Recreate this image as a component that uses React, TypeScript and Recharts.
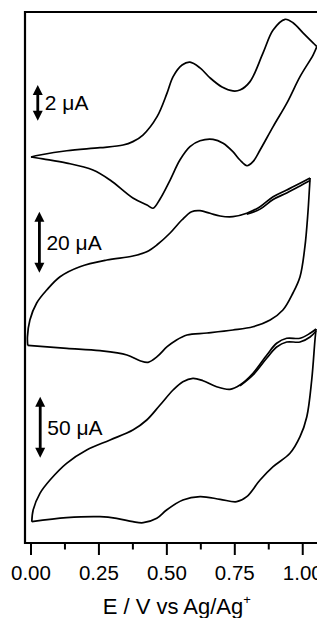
import React from 'react';
import { LineChart, Line, XAxis, YAxis, ReferenceLine, ReferenceArea, Label } from 'recharts';

// ---- axis ----
const X_DOMAIN: [number, number] = [-0.022, 1.058];
const X_TICKS = [0, 0.125, 0.25, 0.375, 0.5, 0.625, 0.75, 0.875, 1.0];
const X_TICK_LABELS = ['0.00', '', '0.25', '', '0.50', '', '0.75', '', '1.00'];
const X_TITLE = 'E / V vs Ag/Ag';

// ---- CV 1 (2 µA scale) ----
const cv1FwdE = [0.000, 0.033, 0.132, 0.254, 0.339, 0.375, 0.412, 0.464, 0.501, 0.523, 0.556, 0.585, 0.622, 0.659, 0.703, 0.743, 0.769, 0.806, 0.854, 0.891, 0.935, 0.964, 1.001, 1.038, 1.052];
const cv1FwdI = [0.00, 0.11, 0.35, 0.52, 0.67, 0.86, 1.23, 2.26, 3.59, 4.50, 5.15, 5.31, 4.99, 4.43, 3.92, 3.70, 3.75, 4.22, 5.83, 7.11, 7.71, 7.52, 6.95, 6.39, 6.18];
const cv1RevE = [1.052, 1.038, 0.990, 0.942, 0.891, 0.843, 0.817, 0.795, 0.769, 0.743, 0.707, 0.670, 0.622, 0.585, 0.548, 0.512, 0.475, 0.449, 0.427, 0.375, 0.291, 0.228, 0.132, 0.044, 0.000];
const cv1RevI = [6.18, 5.71, 4.50, 3.03, 1.70, 0.39, -0.26, -0.49, -0.17, 0.30, 0.77, 0.99, 0.91, 0.58, -0.17, -1.29, -2.35, -2.87, -2.69, -2.30, -1.29, -0.73, -0.34, -0.11, 0.00];

// ---- CV 2 (20 µA scale) ----
const cv2FwdE = [-0.012, -0.013, -0.004, 0.021, 0.058, 0.107, 0.180, 0.279, 0.375, 0.426, 0.463, 0.512, 0.555, 0.591, 0.622, 0.659, 0.696, 0.743, 0.794, 0.843, 0.891, 0.941, 0.990, 1.027];
const cv2FwdI = [-14.9, -12.1, -6.56, -0.98, 3.28, 7.64, 10.92, 13.11, 14.43, 15.84, 18.03, 21.97, 26.23, 28.95, 29.28, 28.43, 27.54, 27.31, 28.43, 30.59, 33.87, 36.07, 38.26, 40.0];
const cv2RevE = [1.027, 1.025, 1.019, 1.008, 0.990, 0.964, 0.927, 0.880, 0.817, 0.743, 0.648, 0.574, 0.530, 0.501, 0.464, 0.431, 0.401, 0.353, 0.254, 0.132, -0.012];
const cv2RevI = [40.0, 37.05, 28.52, 17.48, 7.64, 2.30, -3.28, -6.56, -8.75, -9.84, -10.82, -11.48, -13.44, -15.31, -18.59, -20.43, -19.90, -18.03, -16.62, -15.84, -14.9];
const cv2Cyc2E = [0.794, 0.843, 0.891, 0.941, 0.990, 1.027];
const cv2Cyc2I = [28.1, 29.8, 32.95, 35.1, 37.4, 39.2];

// ---- CV 3 (50 µA scale) ----
const cv3FwdE = [0.003, 0.008, 0.033, 0.070, 0.131, 0.205, 0.291, 0.375, 0.426, 0.475, 0.523, 0.559, 0.596, 0.633, 0.683, 0.732, 0.769, 0.817, 0.868, 0.904, 0.941, 0.990, 1.027, 1.049];
const cv3FwdI = [-58.77, -49.18, -35.49, -24.59, -10.90, 0, 8.20, 16.39, 24.59, 36.89, 49.18, 55.98, 58.77, 56.80, 51.89, 49.75, 53.28, 62.87, 77.87, 87.46, 91.56, 91.56, 95.66, 99.18];
const cv3RevE = [1.049, 1.045, 1.033, 1.015, 0.990, 0.953, 0.891, 0.843, 0.794, 0.757, 0.696, 0.622, 0.559, 0.499, 0.463, 0.413, 0.375, 0.315, 0.254, 0.131, 0.003];
const cv3RevI = [99.18, 90.16, 57.38, 27.30, 10.90, -2.70, -13.69, -24.59, -38.28, -42.38, -40.41, -38.28, -40.98, -49.18, -55.98, -59.59, -58.77, -55.98, -54.67, -55.49, -58.77];
const cv3Cyc2E = [0.769, 0.817, 0.868, 0.904, 0.941, 0.990, 1.027, 1.049];
const cv3Cyc2I = [52.5, 61.5, 75.4, 84.4, 88.5, 88.5, 92.6, 97.5];

// ---- vertical axes (one per trace, in µA) ----
const Y_DOMAIN_1: [number, number] = [-21.62, 8.12];
const Y_DOMAIN_2: [number, number] = [-79.67, 94.43];
const Y_DOMAIN_3: [number, number] = [-76.23, 359.0];

// ---- scale bars ----
const scaleBarLabels = ['2 \u03bcA', '20 \u03bcA', '50 \u03bcA'];
const scaleBarE = [0.025, 0.031, 0.034];
const scaleBarFrom = [2.03, 8.95, -6.3];
const scaleBarTo = [4.03, 28.95, 43.7];

const zip = (e: number[], i: number[]) => e.map((v, k) => ({ E: v, I: i[k] }));

const FONT = '"Liberation Sans", Arial, sans-serif';

// centripetal Catmull-Rom curve factory (smooth through every point, no overshoot loops)
function catmullRom(context: any) {
  let pts: [number, number][] = [];
  const dist = (a: [number, number], b: [number, number]) =>
    Math.pow(Math.hypot(b[0] - a[0], b[1] - a[1]), 0.5) || 1e-6;
  return {
    areaStart() {},
    areaEnd() {},
    lineStart() {
      pts = [];
    },
    lineEnd() {
      const n = pts.length;
      if (!n) return;
      context.moveTo(pts[0][0], pts[0][1]);
      for (let i = 0; i < n - 1; i++) {
        const p0 = pts[i === 0 ? 0 : i - 1];
        const p1 = pts[i];
        const p2 = pts[i + 1];
        const p3 = pts[i + 2 < n ? i + 2 : n - 1];
        const t01 = dist(p0, p1);
        const t12 = dist(p1, p2);
        const t23 = dist(p2, p3);
        const m1 = [0, 1].map(
          (k) => p2[k] - p1[k] + t12 * ((p1[k] - p0[k]) / t01 - (p2[k] - p0[k]) / (t01 + t12))
        );
        const m2 = [0, 1].map(
          (k) => p2[k] - p1[k] + t12 * ((p3[k] - p2[k]) / t23 - (p3[k] - p1[k]) / (t12 + t23))
        );
        context.bezierCurveTo(
          p1[0] + m1[0] / 3,
          p1[1] + m1[1] / 3,
          p2[0] - m2[0] / 3,
          p2[1] - m2[1] / 3,
          p2[0],
          p2[1]
        );
      }
    },
    point(x: number, y: number) {
      pts.push([+x, +y]);
    },
  };
}

const Tick = (props: any) => {
  const { x, y, payload } = props;
  const idx = X_TICKS.indexOf(payload.value);
  const label = idx >= 0 ? X_TICK_LABELS[idx] : '';
  const major = label !== '';
  return (
    <g>
      <line x1={x} x2={x} y1={y} y2={y + (major ? 12 : 6.5)} stroke="#000" strokeWidth={2} />
      {major && (
        <text x={x} y={y + 37} textAnchor="middle" fontSize={20.5} fontFamily={FONT} fill="#000">
          {label}
        </text>
      )}
    </g>
  );
};

const Title = (props: any) => {
  const vb = props.viewBox || { x: 17, y: 535, width: 293.5, height: 75 };
  return (
    <text x={vb.x + vb.width / 2 + 5} y={vb.y + 71} textAnchor="middle" fontSize={22} fontFamily={FONT} fill="#000">
      {X_TITLE}
      <tspan dy={-10} fontSize={13}>+</tspan>
    </text>
  );
};

const makeBar = (text: string) => (props: any) => {
  const { x1, y1, y2 } = props;
  const top = Math.min(y1, y2);
  const bot = Math.max(y1, y2);
  const x = x1;
  const hw = 5;
  const hl = 10;
  return (
    <g>
      <line x1={x} x2={x} y1={top + hl - 1} y2={bot - hl + 1} stroke="#000" strokeWidth={2.8} />
      <polygon points={`${x},${top} ${x - hw},${top + hl} ${x + hw},${top + hl}`} fill="#000" />
      <polygon points={`${x},${bot} ${x - hw},${bot - hl} ${x + hw},${bot - hl}`} fill="#000" />
      <text x={x + 7} y={(top + bot) / 2 + 7.5} fontSize={21} fontFamily={FONT} fill="#000">
        {text}
      </text>
    </g>
  );
};

const axisIds = ['a', 'b', 'c'];

export default function App() {
  const series = [
    { id: 'a', data: zip(cv1FwdE, cv1FwdI) },
    { id: 'a', data: zip(cv1RevE, cv1RevI) },
    { id: 'b', data: zip(cv2FwdE, cv2FwdI) },
    { id: 'b', data: zip(cv2RevE, cv2RevI) },
    { id: 'b', data: zip(cv2Cyc2E, cv2Cyc2I) },
    { id: 'c', data: zip(cv3FwdE, cv3FwdI) },
    { id: 'c', data: zip(cv3RevE, cv3RevI) },
    { id: 'c', data: zip(cv3Cyc2E, cv3Cyc2I) },
  ];
  return (
    <div style={{ width: 317, height: 610, background: '#fff' }}>
      <style>{'html,body{overflow:hidden;background:#fff}'}</style>
      <LineChart width={317} height={610} margin={{ top: 4, right: 6.5, left: 17, bottom: 0 }}>
        <XAxis
          type="number"
          dataKey="E"
          domain={X_DOMAIN}
          ticks={X_TICKS}
          interval={0}
          allowDataOverflow
          axisLine={false}
          tickLine={false}
          tickSize={0}
          tickMargin={0}
          height={75}
          tick={<Tick />}
          label={<Label content={<Title />} />}
        />
        <YAxis yAxisId="a" type="number" domain={Y_DOMAIN_1} allowDataOverflow hide />
        <YAxis yAxisId="b" type="number" domain={Y_DOMAIN_2} allowDataOverflow hide />
        <YAxis yAxisId="c" type="number" domain={Y_DOMAIN_3} allowDataOverflow hide />
        <ReferenceArea
          yAxisId="a"
          x1={X_DOMAIN[0]}
          x2={X_DOMAIN[1]}
          y1={Y_DOMAIN_1[0]}
          y2={Y_DOMAIN_1[1]}
          fill="none"
          fillOpacity={0}
          stroke="#000"
          strokeWidth={2.2}
          ifOverflow="visible"
        />
        {series.map((s, k) => (
          <Line
            key={k}
            yAxisId={s.id}
            data={s.data}
            dataKey="I"
            type={catmullRom as any}
            stroke="#000"
            strokeWidth={1.7}
            dot={false}
            activeDot={false}
            isAnimationActive={false}
          />
        ))}
        {scaleBarLabels.map((t, k) => (
          <ReferenceLine
            key={'bar' + k}
            yAxisId={axisIds[k]}
            segment={[
              { x: scaleBarE[k], y: scaleBarFrom[k] },
              { x: scaleBarE[k], y: scaleBarTo[k] },
            ]}
            stroke="#000"
            ifOverflow="visible"
            shape={makeBar(t)}
          />
        ))}
      </LineChart>
    </div>
  );
}
